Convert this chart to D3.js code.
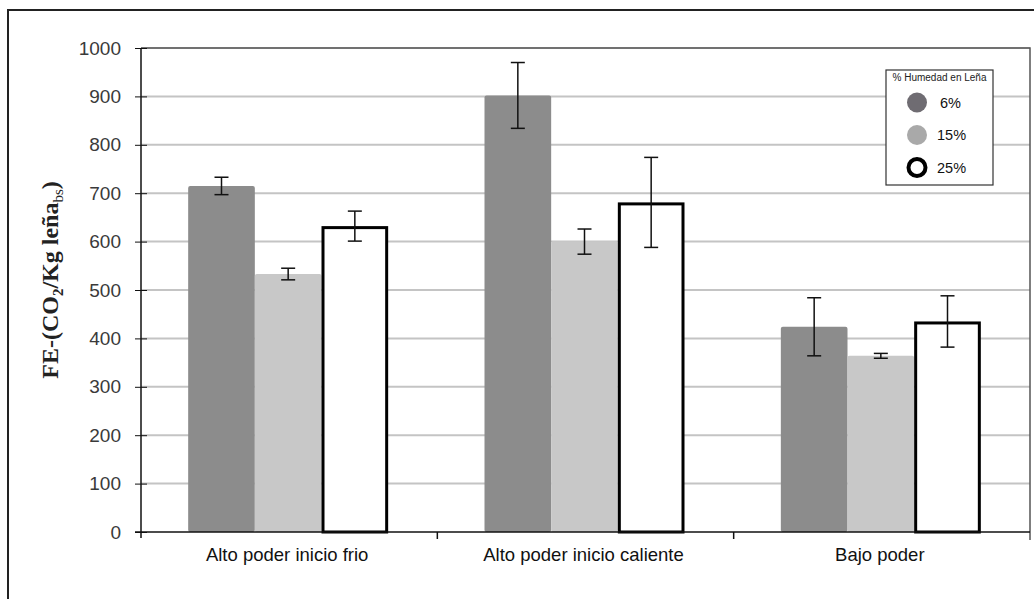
<!doctype html>
<html>
<head>
<meta charset="utf-8">
<script src="https://d3js.org/d3.v7.min.js"></script>
<style>
  body { margin: 0; background: #fff; }
  text { font-family: "Liberation Sans", Arial, sans-serif; }
</style>
</head>
<body>
<script>
    var categories = ["Alto poder inicio frio", "Alto poder inicio caliente", "Bajo poder"];
    var series = ["6%", "15%", "25%"];
    var values6 = [715, 902, 424];
    var values15 = [533, 600, 364];
    var values25 = [632, 681, 435];
    var err6 = [18, 68, 60];
    var err15 = [12, 26, 5];
    var err25 = [31, 93, 53];
    var yTicks = [0, 100, 200, 300, 400, 500, 600, 700, 800, 900, 1000];

    var width = 1034, height = 599;
    // plot edges (note: "top" is a reserved window property, so use pTop etc.)
    var pLeft = 141, pRight = 1030, pTop = 48, pBottom = 532;

    var svg = d3.select("body").append("svg")
        .attr("width", width)
        .attr("height", height);

    // outer frame
    svg.append("path")
        .attr("d", "M8," + height + "V10H" + width)
        .attr("fill", "none")
        .attr("stroke", "#222")
        .attr("stroke-width", 2);

    var y = d3.scaleLinear().domain([0, 1000]).range([pBottom, pTop]);
    var x0 = d3.scaleBand().domain(categories).range([pLeft, pRight]).padding(0);
    var x1 = d3.scaleBand().domain(series).range([0, 200]);
    var offset = (x0.bandwidth() - 200) / 2 - 1;

    // gridlines
    svg.append("g").selectAll("line")
        .data(yTicks.filter(function(d){ return d > 0; }))
        .enter().append("line")
        .attr("x1", pLeft).attr("x2", pRight)
        .attr("y1", function(d){ return y(d); })
        .attr("y2", function(d){ return y(d); })
        .attr("stroke", "#c4c4c4")
        .attr("stroke-width", 2);

    // plot box top/right
    svg.append("path")
        .attr("d", "M" + pLeft + "," + pTop + "H" + pRight + "V" + (pBottom + 8))
        .attr("fill", "none")
        .attr("stroke", "#555")
        .attr("stroke-width", 1.5);

    var data = [];
    categories.forEach(function(c, i){
        data.push({cat: c, s: "6%", v: values6[i], e: err6[i]});
        data.push({cat: c, s: "15%", v: values15[i], e: err15[i]});
        data.push({cat: c, s: "25%", v: values25[i], e: err25[i]});
    });
    var fills = {"6%": "#8c8c8c", "15%": "#c8c8c8", "25%": "#ffffff"};

    function bx(d){ return x0(d.cat) + offset + x1(d.s); }

    svg.append("g").selectAll("rect")
        .data(data)
        .enter().append("rect")
        .attr("x", function(d){ return d.s === "25%" ? bx(d) + 1.5 : bx(d); })
        .attr("y", function(d){ return d.s === "25%" ? y(d.v) + 1.5 : y(d.v); })
        .attr("width", function(d){ return d.s === "25%" ? x1.bandwidth() - 3 : x1.bandwidth(); })
        .attr("height", function(d){ return d.s === "25%" ? pBottom - y(d.v) - 1.5 : pBottom - y(d.v); })
        .attr("rx", function(d){ return d.s === "25%" ? 0 : 2; })
        .attr("fill", function(d){ return fills[d.s]; })
        .attr("stroke", function(d){ return d.s === "25%" ? "#000" : "none"; })
        .attr("stroke-width", 3);

    // error bars
    var eb = svg.append("g").attr("stroke", "#111").attr("stroke-width", 1.5);
    data.forEach(function(d){
        var cx = bx(d) + x1.bandwidth() / 2;
        eb.append("line").attr("x1", cx).attr("x2", cx).attr("y1", y(d.v + d.e)).attr("y2", y(d.v - d.e));
        eb.append("line").attr("x1", cx - 7).attr("x2", cx + 7).attr("y1", y(d.v + d.e)).attr("y2", y(d.v + d.e));
        eb.append("line").attr("x1", cx - 7).attr("x2", cx + 7).attr("y1", y(d.v - d.e)).attr("y2", y(d.v - d.e));
    });

    // y axis
    var yAxis = svg.append("g")
        .attr("transform", "translate(" + pLeft + ",0)")
        .call(d3.axisLeft(y).tickValues(yTicks).tickFormat(d3.format("d")).tickSize(6).tickPadding(14));
    yAxis.selectAll(".tick line").attr("x2", 6).attr("x1", -6).attr("stroke", "#111");
    yAxis.select(".domain").attr("stroke", "#111").attr("stroke-width", 1.5).attr("d", "M0," + pTop + "V" + pBottom);
    yAxis.selectAll("text")
        .style("font-size", "19px").attr("fill", "#3a3a3a")
        .style("font-family", "Liberation Sans, Arial, sans-serif");

    // x axis
    var xAxis = svg.append("g").attr("transform", "translate(0," + pBottom + ")");
    xAxis.append("line").attr("x1", pLeft - 6).attr("x2", pRight).attr("y1", 0).attr("y2", 0)
        .attr("stroke", "#111").attr("stroke-width", 1.5);
    xAxis.selectAll(".xt")
        .data(categories.slice(1))
        .enter().append("line")
        .attr("x1", function(d){ return x0(d); }).attr("x2", function(d){ return x0(d); })
        .attr("y1", 0).attr("y2", 7)
        .attr("stroke", "#111").attr("stroke-width", 1.5);
    xAxis.append("line").attr("x1", pLeft).attr("x2", pLeft).attr("y1", 0).attr("y2", 6)
        .attr("stroke", "#111").attr("stroke-width", 1.5);
    xAxis.selectAll(".xl")
        .data(categories)
        .enter().append("text")
        .attr("x", function(d){ return x0(d) + x0.bandwidth() / 2 - 2; })
        .attr("y", 29)
        .attr("text-anchor", "middle")
        .style("font-size", "18.5px")
        .attr("fill", "#111")
        .text(function(d){ return d; });

    // y label
    var yl = svg.append("text")
        .attr("transform", "translate(58,280) rotate(-90)")
        .attr("text-anchor", "middle")
        .style("font-size", "24px")
        .attr("font-weight", "bold")
        .style("font-family", "Liberation Serif, Times New Roman, serif")
        .attr("fill", "#222");
    yl.append("tspan").text("FE-(CO");
    yl.append("tspan").style("font-size", "15px").attr("dy", 5).text("2");
    yl.append("tspan").attr("dy", -5).text("/Kg leña");
    yl.append("tspan").style("font-size", "15px").attr("font-weight", "normal").attr("dy", 5).text("bs");
    yl.append("tspan").attr("dy", -5).text(")");

    // legend
    var lg = svg.append("g").attr("transform", "translate(886,70)");
    lg.append("rect").attr("width", 107).attr("height", 115)
        .attr("fill", "#fff").attr("stroke", "#333").attr("stroke-width", 1.2);
    lg.append("text").attr("x", 53.5).attr("y", 11).attr("text-anchor", "middle")
        .style("font-size", "10px").attr("fill", "#222").text("% Humedad en Leña");
    var legFill = ["#6f6c72", "#a9a9a9", "#fff"];
    series.forEach(function(s, i){
        var cy = 32.5 + i * 32.5;
        lg.append("circle").attr("cx", 31).attr("cy", cy).attr("r", i === 2 ? 8.5 : 10)
            .attr("fill", legFill[i])
            .attr("stroke", i === 2 ? "#000" : "none")
            .attr("stroke-width", 4);
        lg.append("text").attr("x", i === 0 ? 54 : 51).attr("y", cy + 5)
            .style("font-size", "14.5px").attr("fill", "#111").text(s);
    });
</script>
</body>
</html>
